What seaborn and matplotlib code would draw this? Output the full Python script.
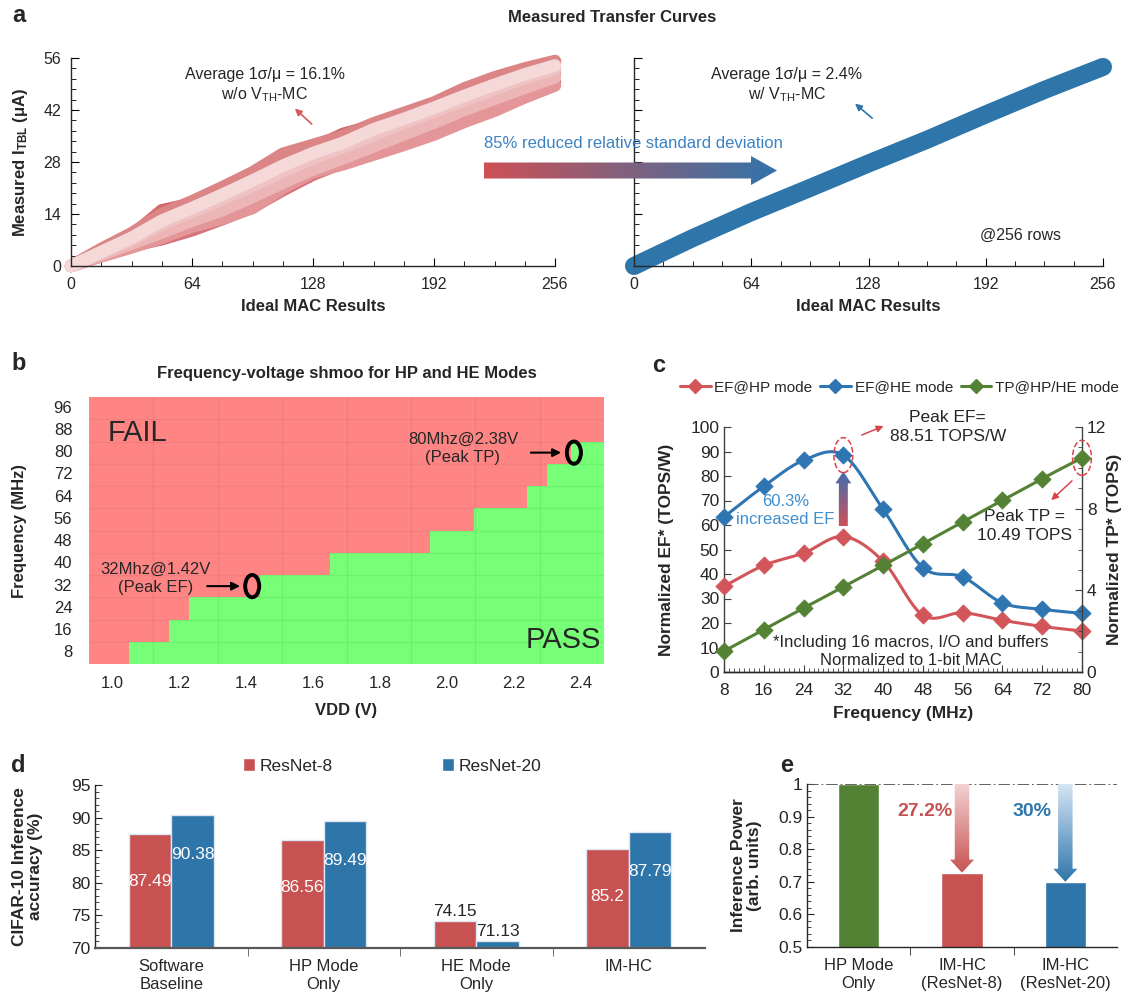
import numpy as np
import pandas as pd
import matplotlib
matplotlib.use("Agg")
import matplotlib.pyplot as plt
import seaborn as sns
from matplotlib.patches import Polygon, Ellipse, Patch
from matplotlib.lines import Line2D
from matplotlib.colors import ListedColormap, to_rgba
from matplotlib.ticker import MultipleLocator, FuncFormatter

# ======================= DATA =======================
# panel a: measured transfer curves (w/o VTH-MC), MAC result vs current (uA)
mac_x = [0, 16, 32, 48, 64, 80, 96, 112, 128, 144, 160, 176, 192, 208, 224, 240, 256]
curve_c1 = [0, 4.6, 8.8, 14.0, 17.4, 21.2, 25.2, 30.2, 32.6, 35.0, 38.4, 41.2, 44.0, 47.8, 50.8, 53.2, 55.2]
curve_c2 = [0, 4.2, 8.2, 15.0, 16.8, 20.4, 24.4, 29.2, 31.8, 35.6, 37.8, 40.4, 43.2, 47.0, 50.2, 52.6, 54.6]
curve_c3 = [0, 3.8, 7.6, 12.2, 15.6, 19.2, 23.0, 27.0, 30.4, 33.2, 36.8, 39.6, 42.6, 45.8, 48.8, 51.6, 54.0]
curve_c4 = [0, 3.4, 7.0, 11.2, 14.6, 18.0, 21.6, 25.4, 29.0, 32.0, 35.2, 38.6, 41.6, 44.6, 47.6, 50.6, 53.0]
curve_c5 = [0, 3.2, 6.4, 10.0, 13.4, 16.6, 20.0, 23.6, 27.2, 30.6, 33.6, 37.0, 40.2, 43.4, 46.6, 49.6, 52.0]
curve_c6 = [0, 3.0, 6.0, 9.0, 12.2, 15.0, 18.6, 22.4, 26.0, 29.0, 32.2, 35.4, 38.6, 42.0, 45.0, 48.0, 50.8]
curve_c7 = [0, 2.8, 5.4, 7.2, 9.6, 12.6, 15.8, 20.4, 24.6, 27.8, 30.4, 33.4, 36.4, 39.6, 42.6, 46.0, 49.4]
curve_c8 = [0, 2.6, 5.0, 7.6, 10.6, 12.8, 15.6, 21.0, 25.2, 27.4, 30.0, 32.6, 35.4, 38.8, 41.8, 45.4, 48.6]
# panel a: with VTH-MC
mc_x = [0, 32, 64, 96, 128, 160, 192, 224, 256]
mc_curve = [0, 7.5, 14.5, 21.0, 27.6, 34.0, 40.8, 47.4, 53.6]

# panel b: shmoo, minimum passing VDD per frequency (nan = fails everywhere)
shmoo_freq = [96, 88, 80, 72, 64, 56, 48, 40, 32, 24, 16, 8]
shmoo_min_vdd = [np.nan, np.nan, 2.37, 2.30, 2.24, 2.08, 1.95, 1.65, 1.44, 1.23, 1.17, 1.05]
vdd_ticks = [1.0, 1.2, 1.4, 1.6, 1.8, 2.0, 2.2, 2.4]

# panel c
freq_c = [8, 16, 24, 32, 40, 48, 56, 64, 72, 80]
ef_hp = [35.0, 43.5, 48.5, 55.3, 45.2, 23.2, 24.2, 21.1, 18.6, 16.7]
ef_he = [63.3, 75.8, 86.4, 88.51, 66.4, 42.6, 38.8, 28.2, 25.6, 23.9]
tp_all = [1.02, 2.08, 3.13, 4.17, 5.22, 6.28, 7.35, 8.41, 9.47, 10.49]

# panel d
acc_cats = ["Software\nBaseline", "HP Mode\nOnly", "HE Mode\nOnly", "IM-HC"]
acc_resnet8 = [87.49, 86.56, 74.15, 85.2]
acc_resnet20 = [90.38, 89.49, 71.13, 87.79]

# panel e
power_cats = ["HP Mode\nOnly", "IM-HC\n(ResNet-8)", "IM-HC\n(ResNet-20)"]
power_vals = [1.0, 0.728, 0.70]

# ======================= STYLE =======================
sns.set_style("ticks")
plt.rcParams["font.family"] = ["Liberation Sans", "DejaVu Sans"]
plt.rcParams["mathtext.fontset"] = "custom"
plt.rcParams["mathtext.rm"] = "Liberation Sans"
plt.rcParams["mathtext.it"] = "Liberation Sans:italic"
plt.rcParams["mathtext.bf"] = "Liberation Sans:bold"
plt.rcParams["axes.linewidth"] = 1.0

RED = "#C85252"
BLUE = "#2E75AA"
GREEN = "#548235"
LRED = "#D2555A"
LBLUE = "#2E75B2"
TXTBLUE = "#3C82C3"

W, H = 1132, 994
fig = plt.figure(figsize=(W / 100, H / 100), dpi=100)


def rect(x0, y0, x1, y1):
    return [x0 / W, 1 - y1 / H, (x1 - x0) / W, (y1 - y0) / H]


def grad_arrow(ax, x0, y0, x1, y1, bw, hw, hl, c_tail, c_tip, zorder=5):
    ct = np.array(to_rgba(c_tail))
    cp = np.array(to_rgba(c_tip))
    f = np.linspace(0, 1, 256)[:, None]
    cols = ct * (1 - f) + cp * f
    if x0 == x1:
        d = np.sign(y1 - y0)
        yb = y1 - d * hl
        verts = [(x0 - bw, y0), (x0 - bw, yb), (x0 - hw, yb), (x1, y1),
                 (x0 + hw, yb), (x0 + bw, yb), (x0 + bw, y0)]
        img = cols[:, None, :]
        origin = "lower" if d > 0 else "upper"
        extent = [x0 - hw, x0 + hw, min(y0, y1), max(y0, y1)]
    else:
        d = np.sign(x1 - x0)
        xb = x1 - d * hl
        verts = [(x0, y0 - bw), (xb, y0 - bw), (xb, y0 - hw), (x1, y1),
                 (xb, y0 + hw), (xb, y0 + bw), (x0, y0 + bw)]
        img = (cols if d > 0 else cols[::-1])[None, :, :]
        origin = "lower"
        extent = [min(x0, x1), max(x0, x1), y0 - hw, y0 + hw]
    poly = Polygon(verts, closed=True, fc="none", ec="none")
    ax.add_patch(poly)
    im = ax.imshow(img, extent=extent, origin=origin, aspect="auto",
                   interpolation="bilinear", zorder=zorder)
    im.set_clip_path(poly)
    return im


def smooth(xs, ys, n=24):
    xs = np.asarray(xs, float)
    ys = np.asarray(ys, float)
    px = np.concatenate([[2 * xs[0] - xs[1]], xs, [2 * xs[-1] - xs[-2]]])
    py = np.concatenate([[2 * ys[0] - ys[1]], ys, [2 * ys[-1] - ys[-2]]])
    t = np.linspace(0, 1, n, endpoint=False)
    ox, oy = [], []
    for i in range(1, len(px) - 2):
        for p, o in ((px, ox), (py, oy)):
            p0, p1, p2, p3 = p[i - 1], p[i], p[i + 1], p[i + 2]
            o.extend(0.5 * (2 * p1 + (-p0 + p2) * t + (2 * p0 - 5 * p1 + 4 * p2 - p3) * t ** 2
                            + (-p0 + 3 * p1 - 3 * p2 + p3) * t ** 3))
    ox.append(xs[-1])
    oy.append(ys[-1])
    return np.array(ox), np.array(oy)


ax_al = fig.add_axes(rect(71, 58, 555, 266))
ax_ar = fig.add_axes(rect(634, 58, 1103, 266))
ax_b = fig.add_axes(rect(89, 397, 604, 664))
ax_c = fig.add_axes(rect(724, 427, 1082, 672))
ax_d = fig.add_axes(rect(95, 785, 705, 948))
ax_e = fig.add_axes(rect(807, 784, 1117, 947))

# ======================= PANEL a =======================
curves = {"c1": curve_c1, "c2": curve_c2, "c3": curve_c3, "c4": curve_c4,
          "c5": curve_c5, "c6": curve_c6, "c7": curve_c7, "c8": curve_c8}
pal_a = {"c1": "#DB8587", "c2": "#D26a6d", "c3": "#F5D9D9", "c4": "#EFC3C4",
         "c5": "#E5A0A2", "c6": "#ECB6B7", "c7": "#D6737A", "c8": "#E39597"}
order_a = ["c2", "c7", "c1", "c8", "c5", "c6", "c4", "c3"]
df_a = pd.DataFrame([(x, y, k) for k, v in curves.items() for x, y in zip(mac_x, v)],
                    columns=["mac", "cur", "curve"])
sns.lineplot(data=df_a, x="mac", y="cur", hue="curve", hue_order=order_a, palette=pal_a,
             lw=9, legend=False, estimator=None, sort=False, ax=ax_al,
             solid_capstyle="round", solid_joinstyle="round", clip_on=False)
sns.lineplot(x=mc_x, y=mc_curve, color=BLUE, lw=13, ax=ax_ar, estimator=None,
             solid_capstyle="round", solid_joinstyle="round", clip_on=False)

for ax in (ax_al, ax_ar):
    ax.set_xlim(0, 256)
    ax.set_ylim(0, 56)
    ax.set_xticks([0, 64, 128, 192, 256])
    ax.xaxis.set_minor_locator(MultipleLocator(16))
    ax.set_yticks([0, 14, 28, 42, 56])
    ax.yaxis.set_minor_locator(MultipleLocator(2.8))
    ax.tick_params(which="both", direction="in", labelsize=11.5, color="black")
    ax.tick_params(axis="x", which="major", length=6, pad=8)
    ax.tick_params(axis="y", which="major", length=6, pad=7)
    ax.tick_params(which="minor", length=3.5)
    sns.despine(ax=ax)
    ax.set_xlabel("Ideal MAC Results", fontsize=12, fontweight="bold", labelpad=5)
    ax.set_ylabel("")
ax_ar.tick_params(axis="y", labelleft=False)
ax_al.set_ylabel("Measured I$_{\\mathbf{TBL}}$ (μA)", fontsize=12, fontweight="bold")
ax_al.yaxis.set_label_coords(-0.085, 0.5)

ax_al.text(102.6, 48.7, "Average 1σ/μ = 16.1%\nw/o V$_{\\mathrm{TH}}$-MC", ha="center", va="center",
           fontsize=11.5, linespacing=1.25)
ax_al.annotate("", xy=(117.3, 42.9), xytext=(128.4, 37.7),
               arrowprops=dict(arrowstyle="-|>", color="#D65A5A", lw=1.2, mutation_scale=10))
ax_ar.text(83.4, 48.7, "Average 1σ/μ = 2.4%\nw/ V$_{\\mathrm{TH}}$-MC", ha="center", va="center",
           fontsize=11.5, linespacing=1.25)
ax_ar.annotate("", xy=(119.5, 44.2), xytext=(131.2, 39.3),
               arrowprops=dict(arrowstyle="-|>", color=BLUE, lw=1.2, mutation_scale=10))
ax_ar.text(211, 8.35, "@256 rows", ha="center", va="center", fontsize=11.5)

# ======================= PANEL b =======================
n_cols = 154
vdd_left = 0.93 + 0.01 * np.arange(n_cols)
thr = np.array(shmoo_min_vdd, float)
grid = (vdd_left[None, :] >= np.where(np.isnan(thr), 99, thr)[:, None] - 1e-9).astype(int)
shmoo_df = pd.DataFrame(grid, index=shmoo_freq)


def vx(v):
    return (v - 0.93) / 0.01


def fy(f):
    return (96 - f) / 8 + 0.5


sns.heatmap(shmoo_df, cmap=ListedColormap(["#FF8585", "#77FF77"]), vmin=0, vmax=1,
            cbar=False, ax=ax_b, xticklabels=False, yticklabels=shmoo_freq)
ax_b.set_xticks([vx(v) for v in vdd_ticks])
ax_b.set_xticklabels([f"{v:.1f}" for v in vdd_ticks])
ax_b.set_yticks([fy(f) for f in shmoo_freq])
ax_b.set_yticklabels([str(f) for f in shmoo_freq], rotation=0)
ax_b.tick_params(length=0, labelsize=12)
ax_b.tick_params(axis="y", pad=12)
ax_b.tick_params(axis="x", pad=9)
ax_b.vlines(np.linspace(0, n_cols, 9)[1:-1], 0, 12, color=(0, 0, 0, 0.05), lw=1)
ax_b.hlines(np.arange(1, 12), 0, n_cols, color=(0, 0, 0, 0.05), lw=1)
ax_b.set_xlabel("VDD (V)", fontsize=12, fontweight="bold", labelpad=8)
ax_b.set_ylabel("Frequency (MHz)", fontsize=12, fontweight="bold")
ax_b.yaxis.set_label_coords(-0.12, 0.5)
ax_b.set_title("Frequency-voltage shmoo for HP and HE Modes", fontsize=12, fontweight="bold", pad=14)
ax_b.text(vx(0.985), 1.62, "FAIL", fontsize=21, ha="left", va="center")
ax_b.text(vx(2.462), 10.9, "PASS", fontsize=21, ha="right", va="center")
ax_b.text(vx(1.13), fy(32) - 0.35, "32Mhz@1.42V\n(Peak EF)", ha="center", va="center", fontsize=12,
          linespacing=1.25)
ax_b.text(vx(2.048), fy(80) - 0.2, "80Mhz@2.38V\n(Peak TP)", ha="center", va="center", fontsize=12,
          linespacing=1.25)
ax_b.annotate("", xy=(vx(1.39), fy(32)), xytext=(vx(1.275), fy(32)),
              arrowprops=dict(arrowstyle="-|>", color="black", lw=1.5, mutation_scale=12))
ax_b.annotate("", xy=(vx(2.35), fy(80)), xytext=(vx(2.243), fy(80)),
              arrowprops=dict(arrowstyle="-|>", color="black", lw=1.5, mutation_scale=12))
ax_b.add_patch(Ellipse((vx(1.418), fy(32)), 4.2, 1.0, fill=False, ec="black", lw=2.8))
ax_b.add_patch(Ellipse((vx(2.38), fy(80)), 4.2, 1.0, fill=False, ec="black", lw=2.8))

# ======================= PANEL c =======================
ax_c2 = ax_c.twinx()
for vals, col in ((ef_hp, LRED), (ef_he, LBLUE)):
    sx, sy = smooth(freq_c, vals)
    sns.lineplot(x=sx, y=sy, color=col, lw=2.2, ax=ax_c, estimator=None, sort=False, clip_on=False)
    sns.scatterplot(x=freq_c, y=vals, marker="D", s=75, color=col, edgecolor=col, ax=ax_c,
                    zorder=4, clip_on=False, legend=False)
sx, sy = smooth(freq_c, tp_all)
sns.lineplot(x=sx, y=sy, color=GREEN, lw=2.2, ax=ax_c2, estimator=None, sort=False, clip_on=False)
sns.scatterplot(x=freq_c, y=tp_all, marker="D", s=75, color=GREEN, edgecolor=GREEN, ax=ax_c2,
                zorder=4, clip_on=False, legend=False)
ax_c.set_xlim(8, 80)
ax_c.set_ylim(0, 100)
ax_c2.set_ylim(0, 12)
ax_c2.set_xlim(8, 80)
ax_c.set_xticks(freq_c)
ax_c.xaxis.set_minor_locator(MultipleLocator(1))
ax_c.set_yticks(np.arange(0, 101, 10))
ax_c2.set_yticks([0, 4, 8, 12])
ax_c2.yaxis.set_minor_locator(MultipleLocator(1))
for a in (ax_c, ax_c2):
    a.tick_params(which="both", direction="in", labelsize=12.5, color="#404040")
    a.tick_params(which="major", length=5)
    a.tick_params(which="minor", length=3)
ax_c.tick_params(axis="x", pad=8)
ax_c.spines["top"].set_visible(False)
ax_c.spines["right"].set_visible(False)
ax_c2.spines["top"].set_visible(False)
ax_c2.spines["left"].set_visible(False)
for sp in ("left", "bottom"):
    ax_c.spines[sp].set_color("#404040")
ax_c2.spines["right"].set_color("#404040")
ax_c.set_xlabel("Frequency (MHz)", fontsize=12.5, fontweight="bold", labelpad=6)
ax_c.set_ylabel("Normalized EF* (TOPS/W)", fontsize=12.5, fontweight="bold")
ax_c.yaxis.set_label_coords(-0.14, 0.5)
ax_c2.set_ylabel("Normalized TP* (TOPS)", fontsize=12.5, fontweight="bold", rotation=90)
ax_c2.yaxis.set_label_coords(1.07, 0.5)

handles = [Line2D([0], [0], color=c, lw=2.2, marker="D", ms=7) for c in (LRED, LBLUE, GREEN)]
ax_c.legend(handles, ["EF@HP mode", "EF@HE mode", "TP@HP/HE mode"], loc="center",
            bbox_to_anchor=(0.49, 1.163), ncol=3, frameon=False, fontsize=11,
            handlelength=2.0, handletextpad=0.25, columnspacing=0.5, borderaxespad=0, borderpad=0)

ax_c.add_patch(Ellipse((32, 88.51), 3.8, 14.3, fill=False, ec="#D9444A", ls="--", lw=1.1, zorder=6))
ax_c2.add_patch(Ellipse((80, 10.49), 3.8, 1.72, fill=False, ec="#D9444A", ls="--", lw=1.1, zorder=6,
                        clip_on=False))
ax_c.text(53, 100, "Peak EF=\n88.51 TOPS/W", ha="center", va="center", fontsize=12.5, linespacing=1.3)
ax_c.annotate("", xy=(40.6, 100.8), xytext=(35.2, 96.3),
              arrowprops=dict(arrowstyle="-|>", color="#D9444A", lw=1.1, mutation_scale=10),
              annotation_clip=False)
ax_c.text(68.4, 59.7, "Peak TP =\n10.49 TOPS", ha="center", va="center", fontsize=12.5, linespacing=1.3)
ax_c.annotate("", xy=(73.4, 69.4), xytext=(78.4, 78.8),
              arrowprops=dict(arrowstyle="-|>", color="#D9444A", lw=1.1, mutation_scale=10))
ax_c.text(20.4, 66, "60.3%\nincreased EF", ha="center", va="center", fontsize=12,
          color="#3D8FD1", linespacing=1.2)
ax_c.text(45.6, 8.5, "*Including 16 macros, I/O and buffers\nNormalized to 1-bit MAC", ha="center",
          va="center", fontsize=12, linespacing=1.25)
grad_arrow(ax_c, 32, 59.5, 32, 81.8, 0.9, 1.6, 4.8, "#D0505A", "#3C6EAF", zorder=3)
ax_c.set_xlim(8, 80)
ax_c.set_ylim(0, 100)

# ======================= PANEL d =======================
df_d = pd.DataFrame({"cond": acc_cats * 2,
                     "model": ["ResNet-8"] * 4 + ["ResNet-20"] * 4,
                     "acc": acc_resnet8 + acc_resnet20})
sns.barplot(data=df_d, x="cond", y="acc", hue="model", palette=[RED, BLUE], width=0.56, gap=0,
            saturation=1, edgecolor="#DCE6F2", linewidth=1, errorbar=None, legend=False, ax=ax_d)
ax_d.set_ylim(70, 95)
ax_d.set_xlim(-0.5, 3.5)
ax_d.yaxis.set_major_locator(MultipleLocator(5))
ax_d.yaxis.set_minor_locator(MultipleLocator(1))
ax_d.set_xticks(range(4))
ax_d.set_xticklabels(acc_cats)
ax_d.set_xticks([0.5, 1.5, 2.5], minor=True)
ax_d.tick_params(axis="x", which="major", length=0, pad=8, labelsize=12)
ax_d.tick_params(axis="x", which="minor", length=6, direction="out", color="#595959")
ax_d.tick_params(axis="y", which="both", direction="in", labelsize=12.5)
ax_d.tick_params(axis="y", which="major", length=5)
ax_d.tick_params(axis="y", which="minor", length=3)
sns.despine(ax=ax_d)
ax_d.spines["bottom"].set_color("#595959")
ax_d.spines["bottom"].set_linewidth(1.6)
ax_d.set_xlabel("")
ax_d.set_ylabel("CIFAR-10 Inference\naccuracy (%)", fontsize=12.5, fontweight="bold", linespacing=1.1)
ax_d.yaxis.set_label_coords(-0.085, 0.5)
for i, (r8, r20) in enumerate(zip(acc_resnet8, acc_resnet20)):
    if r8 < 80:
        ax_d.text(i - 0.14, r8 + 0.3, f"{r8:g}", ha="center", va="bottom", fontsize=12.5)
        ax_d.text(i + 0.14, r20 + 0.3, f"{r20:g}", ha="center", va="bottom", fontsize=12.5)
    else:
        ax_d.text(i - 0.14, r8 - 7.3, f"{r8:g}", ha="center", va="center", fontsize=12.5, color="white")
        ax_d.text(i + 0.14, r20 - 6.0, f"{r20:g}", ha="center", va="center", fontsize=12.5, color="white")
ax_d.legend([Patch(fc=RED), Patch(fc=BLUE)], ["ResNet-8", "ResNet-20"], loc="center",
            bbox_to_anchor=(0.487, 1.117), ncol=2, frameon=False, fontsize=12.5,
            handlelength=0.7, handleheight=0.7, handletextpad=0.25, columnspacing=6.3)

# ======================= PANEL e =======================
sns.barplot(x=power_cats, y=power_vals, hue=power_cats, palette=[GREEN, RED, BLUE], width=0.4,
            saturation=1, legend=False, ax=ax_e, errorbar=None)
ax_e.set_ylim(0.5, 1.0)
ax_e.set_xlim(-0.5, 2.5)
ax_e.axhline(1.0, color="#555555", ls="-.", lw=1.3, zorder=1)
ax_e.yaxis.set_major_locator(MultipleLocator(0.1))
ax_e.yaxis.set_minor_locator(MultipleLocator(0.02))
ax_e.yaxis.set_major_formatter(FuncFormatter(lambda v, p: f"{v:g}"))
ax_e.set_xticks([0.5, 1.5], minor=True)
ax_e.tick_params(axis="x", which="major", length=0, pad=8, labelsize=12)
ax_e.tick_params(axis="x", which="minor", length=6, direction="out")
ax_e.tick_params(axis="y", which="both", direction="in", labelsize=12.5)
ax_e.tick_params(axis="y", which="major", length=5)
ax_e.tick_params(axis="y", which="minor", length=3)
sns.despine(ax=ax_e)
ax_e.set_ylabel("Inference Power\n(arb. units)", fontsize=12.5, fontweight="bold", linespacing=1.1)
ax_e.yaxis.set_label_coords(-0.145, 0.5)
grad_arrow(ax_e, 1, 1.0, 1, power_vals[1], 0.07, 0.117, 0.04, "#F2D2D2", RED, zorder=5)
grad_arrow(ax_e, 2, 1.0, 2, power_vals[2], 0.07, 0.117, 0.04, "#D5E5F5", BLUE, zorder=5)
ax_e.text(0.645, 0.917, "27.2%", color=RED, fontsize=14, fontweight="bold", ha="center", va="center")
ax_e.text(1.68, 0.917, "30%", color=BLUE, fontsize=14, fontweight="bold", ha="center", va="center")
ax_e.set_xlim(-0.5, 2.5)
ax_e.set_ylim(0.5, 1.0)

# ======================= OVERLAY (figure-level text & arrow) =======================
ov = fig.add_axes([0, 0, 1, 1])
ov.set_zorder(20)
ov.patch.set_visible(False)
ov.axis("off")
grad_arrow(ov, 484, 170.5, 777, 170.5, 8, 14.5, 26, "#CD5055", "#3273AA", zorder=5)
ov.text(484, 143, "85% reduced relative standard deviation", color=TXTBLUE, fontsize=12,
        ha="left", va="center")
ov.text(612, 18, "Measured Transfer Curves", fontsize=12, fontweight="bold", ha="center", va="center")
for lab, x, y in (("a", 19, 16), ("b", 19, 363), ("c", 659, 365), ("d", 18, 765), ("e", 787, 765)):
    ov.text(x, y, lab, fontsize=17, fontweight="bold", ha="center", va="center")
ov.set_xlim(0, W)
ov.set_ylim(H, 0)

fig.savefig("out.png", dpi=100)
